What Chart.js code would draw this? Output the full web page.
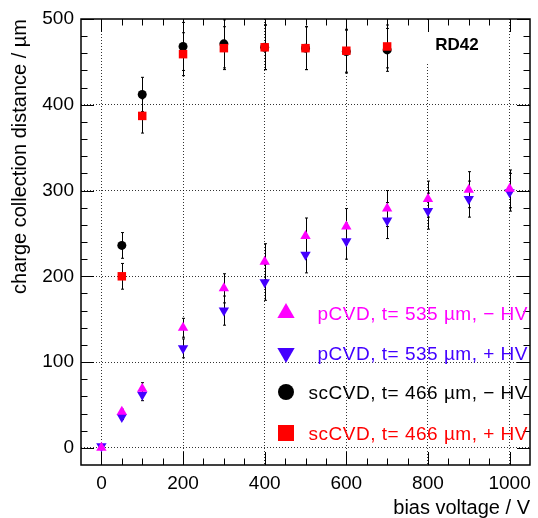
<!DOCTYPE html>
<html>
<head>
<meta charset="utf-8">
<script src="https://cdn.jsdelivr.net/npm/chart.js@4"></script>
<style>
  html, body { margin: 0; padding: 0; background: #fff; }
</style>
</head>
<body>
<canvas id="c" width="538" height="518"></canvas>
<script>
// scCVD points (bias in V, ccd in um)
const biasScCVD = [50, 100, 200, 300, 400, 500, 600, 700];
const scCVDminus = [236, 412, 468, 471, 467, 466, 462, 464];
const scCVDminusErr = [15, 20, 28, 28, 26, 25, 25, 25];
const scCVDplus = [200, 387, 459, 466, 467, 466, 463, 468];
const scCVDplusErr = [15, 20, 25, 25, 26, 25, 25, 25];

// pCVD points
const biasPCVD = [0, 50, 100, 200, 300, 400, 500, 600, 700, 800, 900, 1000];
const pCVDminus = [0, 42, 69, 140, 186, 217, 247, 258, 279, 290, 301, 302];
const pCVDplus = [2, 36, 62, 116, 160, 193, 225, 241, 265, 276, 290, 298];
const pCVDerr = [0, 3, 7, 11, 17, 21, 21, 21, 21, 21, 21, 22];

const xTicks = [0, 200, 400, 600, 800, 1000];
const yTicks = [0, 100, 200, 300, 400, 500];

const seriesLabels = [
    'pCVD, t= 535 µm, − HV',
    'pCVD, t= 535 µm, + HV',
    'scCVD, t= 466 µm, − HV',
    'scCVD, t= 466 µm, + HV'
];

const FONT = "'Liberation Sans', Arial, Helvetica, sans-serif";
Chart.defaults.font.family = FONT;
Chart.defaults.color = '#000';

const pts = (xs, ys) => xs.map((x, i) => ({ x: x, y: ys[i] }));

// little shape painter, used for the legend markers
function marker(ctx, style, x, y, r, rot) {
    ctx.beginPath();
    if (style === 'circle') {
        ctx.arc(x, y, r, 0, Math.PI * 2);
    } else if (style === 'rect') {
        ctx.rect(x - r, y - r, 2 * r, 2 * r);
    } else {
        const s = rot ? -1 : 1;
        ctx.moveTo(x, y - s * r);
        ctx.lineTo(x + r * 0.866, y + s * r * 0.5);
        ctx.lineTo(x - r * 0.866, y + s * r * 0.5);
        ctx.closePath();
    }
    ctx.fill();
}

const errorBars = {
    id: 'errorBars',
    beforeDatasetsDraw(chart) {
        const ctx = chart.ctx;
        const ys = chart.scales.y;
        ctx.save();
        ctx.strokeStyle = '#000';
        ctx.lineWidth = 1;
        chart.data.datasets.forEach((ds, i) => {
            const meta = chart.getDatasetMeta(i);
            meta.data.forEach((pt, j) => {
                const e = ds.errors[j];
                if (!e) return;
                const v = ds.data[j].y;
                const x = Math.round(pt.x) + 0.5;
                const y1 = ys.getPixelForValue(v + e);
                const y2 = ys.getPixelForValue(v - e);
                ctx.beginPath();
                ctx.moveTo(x, y1); ctx.lineTo(x, y2);
                ctx.moveTo(x - 1.5, y1); ctx.lineTo(x + 1.5, y1);
                ctx.moveTo(x - 1.5, y2); ctx.lineTo(x + 1.5, y2);
                ctx.stroke();
            });
        });
        ctx.restore();
    }
};

const frameAndDeco = {
    id: 'frameAndDeco',
    afterDatasetsDraw(chart) {
        const ctx = chart.ctx;
        const a = chart.chartArea;
        const xs = chart.scales.x, ys = chart.scales.y;
        ctx.save();

        // RD42 label with white box
        ctx.fillStyle = '#fff';
        ctx.fillRect(420, a.top + 1, 88, 42);
        ctx.fillStyle = '#000';
        ctx.font = 'bold 17px ' + FONT;
        ctx.textAlign = 'center';
        ctx.textBaseline = 'middle';
        ctx.fillText('RD42', 457, 45);

        // inside ticks
        ctx.strokeStyle = '#000';
        ctx.lineWidth = 1;
        ctx.beginPath();
        for (let v = 0; v <= 1000; v += 50) {
            const x = Math.round(xs.getPixelForValue(v)) + 0.5;
            const len = v % 200 === 0 ? 13 : 6.5;
            ctx.moveTo(x, a.bottom); ctx.lineTo(x, a.bottom - len);
            ctx.moveTo(x, a.top); ctx.lineTo(x, a.top + len);
        }
        for (let v = 0; v <= 500; v += 20) {
            const y = Math.round(ys.getPixelForValue(v)) + 0.5;
            const len = v % 100 === 0 ? 13 : 6.5;
            ctx.moveTo(a.left, y); ctx.lineTo(a.left + len, y);
            ctx.moveTo(a.right, y); ctx.lineTo(a.right - len, y);
        }
        ctx.stroke();

        // frame
        ctx.lineWidth = 1.5;
        ctx.strokeRect(a.left, a.top, a.right - a.left, a.bottom - a.top);

        // legend (no fill, ROOT style)
        const rows = [
            { ds: 0, y: 313, r: 10, textX: 528 },
            { ds: 1, y: 353, r: 10, textX: 528 },
            { ds: 2, y: 392, r: 8, textX: 528 },
            { ds: 3, y: 433, r: 8, textX: 528 }
        ];
        ctx.font = '19px ' + FONT;
        ctx.textAlign = 'right';
        ctx.textBaseline = 'alphabetic';
        try { ctx.letterSpacing = '0.5px'; } catch (err) {}
        rows.forEach(row => {
            const ds = chart.data.datasets[row.ds];
            ctx.fillStyle = ds.backgroundColor;
            marker(ctx, ds.pointStyle, 286, row.y, row.r, ds.rotation);
            ctx.fillText(ds.label, row.textX, row.y + 7);
        });
        ctx.restore();
    }
};

const gridColor = ctx => (ctx.tick && ctx.tick.value === 500) ? 'rgba(0,0,0,0)' : 'rgba(0,0,0,0.8)';

new Chart(document.getElementById('c'), {
    type: 'scatter',
    data: {
        datasets: [
            {
                label: seriesLabels[0],
                data: pts(biasPCVD, pCVDminus),
                errors: pCVDerr,
                backgroundColor: '#ff00ff',
                pointStyle: 'triangle',
                rotation: 0,
                pointRadius: 6,
                pointHoverRadius: 6,
                pointBorderWidth: 0,
                order: 2
            },
            {
                label: seriesLabels[1],
                data: pts(biasPCVD, pCVDplus),
                errors: pCVDerr,
                backgroundColor: '#4400ff',
                pointStyle: 'triangle',
                rotation: 180,
                pointRotation: 180,
                pointRadius: 6,
                pointHoverRadius: 6,
                pointBorderWidth: 0,
                order: 3
            },
            {
                label: seriesLabels[2],
                data: pts(biasScCVD, scCVDminus),
                errors: scCVDminusErr,
                backgroundColor: '#000000',
                pointStyle: 'circle',
                pointRadius: 4.5,
                pointHoverRadius: 4.5,
                pointBorderWidth: 0,
                order: 1
            },
            {
                label: seriesLabels[3],
                data: pts(biasScCVD, scCVDplus),
                errors: scCVDplusErr,
                backgroundColor: '#ff0000',
                pointStyle: 'rect',
                pointRadius: 6,
                pointHoverRadius: 6,
                pointBorderWidth: 0,
                order: 0
            }
        ]
    },
    options: {
        responsive: false,
        animation: false,
        layout: { padding: { top: 19, right: 1, left: 0, bottom: 0 } },
        plugins: {
            legend: { display: false },
            tooltip: { enabled: false }
        },
        scales: {
            x: {
                type: 'linear',
                min: -50,
                max: 1050,
                afterBuildTicks: s => { s.ticks = xTicks.map(v => ({ value: v })); },
                afterFit: s => { s.height = 53; },
                grid: { color: gridColor, lineWidth: 1, drawTicks: false },
                border: { display: false, dash: [1, 2] },
                ticks: {
                    color: '#000', font: { size: 19 }, padding: 7, maxRotation: 0, autoSkip: false,
                    callback: v => String(v)
                },
                title: {
                    display: true, text: 'bias voltage / V', align: 'end', color: '#000',
                    font: { size: 20, lineHeight: 1 }, padding: 0
                }
            },
            y: {
                type: 'linear',
                min: -20,
                max: 500,
                afterBuildTicks: s => { s.ticks = yTicks.map(v => ({ value: v })); },
                afterFit: s => { s.width = 81; },
                grid: { color: gridColor, lineWidth: 1, drawTicks: false },
                border: { display: false, dash: [1, 2] },
                ticks: { color: '#000', font: { size: 19 }, padding: 7, callback: v => String(v) },
                title: {
                    display: true, text: 'charge collection distance / µm', align: 'end', color: '#000',
                    font: { size: 20, lineHeight: 1.2 }, padding: { top: 8, bottom: 0 }
                }
            }
        }
    },
    plugins: [errorBars, frameAndDeco]
});
</script>
</body>
</html>
